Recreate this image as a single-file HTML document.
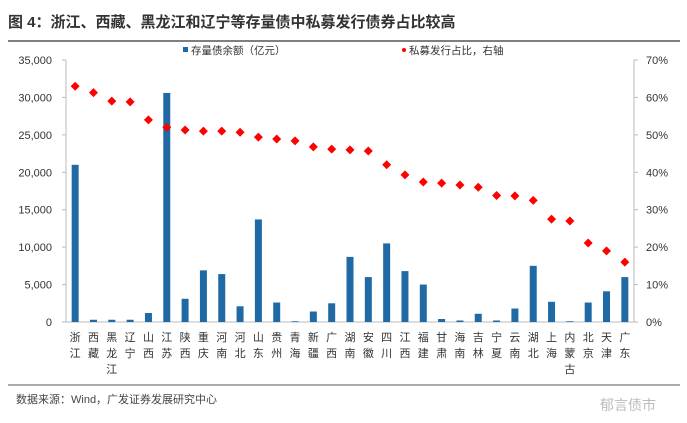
<!DOCTYPE html>
<html><head><meta charset="utf-8"><style>
body{margin:0;width:687px;height:418px;background:#fff;overflow:hidden;font-family:"Liberation Sans","Noto Sans CJK SC",sans-serif;}
</style></head><body>
<svg width="687" height="418" xmlns="http://www.w3.org/2000/svg">
<text x="8" y="27" font-size="15" font-weight="bold" fill="#333" font-family="Liberation Sans,Noto Sans CJK SC,sans-serif">图 4：浙江、西藏、黑龙江和辽宁等存量债中私募发行债券占比较高</text>
<line x1="8" y1="41" x2="680" y2="41" stroke="#555" stroke-width="1.5"/>
<g>
<rect x="183" y="47" width="5" height="5" fill="#1f6aa5"/>
<text x="191" y="54" font-size="10.5" fill="#333">存量债余额（亿元）</text>
<circle cx="404" cy="50" r="2" fill="#f00"/>
<text x="409" y="54" font-size="10.5" fill="#333">私募发行占比，右轴</text>
</g>
<g id="axes"></g>
<g id="marks"></g>
<line x1="8" y1="385" x2="680" y2="385" stroke="#555" stroke-width="1"/>
<text x="16" y="403" font-size="11" fill="#444">数据来源：Wind，广发证券发展研究中心</text>
<text x="600" y="410" font-size="14" fill="#bbb">郁言债市</text>
</svg>
<script>
const categories=["浙江","西藏","黑龙江","辽宁","山西","江苏","陕西","重庆","河南","河北","山东","贵州","青海","新疆","广西","湖南","安徽","四川","江西","福建","甘肃","海南","吉林","宁夏","云南","湖北","上海","内蒙古","北京","天津","广东"];
const balances=[21000,300,300,300,1200,30600,3100,6900,6400,2100,13700,2600,100,1400,2500,8700,6000,10500,6800,5000,400,200,1100,200,1800,7500,2700,100,2600,4100,6000];
const privateRatio=[63,61.3,59,58.8,54,52,51.3,51,51,50.7,49.4,48.9,48.4,46.8,46.2,46,45.7,42,39.3,37.4,37.1,36.6,36,33.8,33.7,32.5,27.5,27,21.1,19,16];
const leftTicks=[0,5000,10000,15000,20000,25000,30000,35000];
const rightTicks=[0,10,20,30,40,50,60,70];
const X0=66,X1=634,Y0=322,Y1=60;
const NS="http://www.w3.org/2000/svg";
const bw=(X1-X0)/categories.length;
const xc=i=>X0+bw*(i+0.5);
const yL=v=>Y0-(v/35000)*(Y0-Y1);
const yR=v=>Y0-(v/70)*(Y0-Y1);
const axes=document.getElementById('axes'),marks=document.getElementById('marks');
function mk(tag,attrs,parent,txt){const e=document.createElementNS(NS,tag);for(const k in attrs)e.setAttribute(k,attrs[k]);if(txt!==undefined)e.textContent=txt;parent.appendChild(e);return e;}
let e;
e=mk('line',{x1:X0,y1:Y1,x2:X0,y2:Y0,stroke:'#bbb'},axes);


e=mk('line',{x1:X1,y1:Y1,x2:X1,y2:Y0,stroke:'#bbb'},axes);


e=mk('line',{x1:X0,y1:Y0,x2:X1,y2:Y0,stroke:'#bbb'},axes);


leftTicks.forEach(v=>{
 mk('line',{x1:X0-4,y1:yL(v),x2:X0,y2:yL(v),stroke:'#bbb'},axes);
 e=mk('text',{x:52,y:yL(v)+4,'font-size':11,'text-anchor':'end',fill:'#333'},axes,v.toLocaleString('en-US'));
 
 
});
rightTicks.forEach(v=>{
 mk('line',{x1:X1,y1:yR(v),x2:X1+4,y2:yR(v),stroke:'#bbb'},axes);
 e=mk('text',{x:646,y:yR(v)+4,'font-size':11,fill:'#333'},axes,v+'%');
 
 
});
categories.forEach((c,i)=>{
 const g=mk('text',{'font-size':11,fill:'#333','text-anchor':'middle'},axes);
 
 
 [...c].forEach((ch,j)=>mk('tspan',{x:xc(i),y:341+j*16},g,ch));
});
balances.forEach((v,i)=>{
 e=mk('rect',{x:xc(i)-3.5,y:yL(v),width:7,height:Y0-yL(v),fill:'#1f6aa5'},marks);
 
 
});
privateRatio.forEach((v,i)=>{
 const x=xc(i),y=yR(v);
 e=mk('polygon',{points:`${x},${y-4.5} ${x+4.5},${y} ${x},${y+4.5} ${x-4.5},${y}`,fill:'#f00'},marks);
 
 
});
</script>
</body></html>
